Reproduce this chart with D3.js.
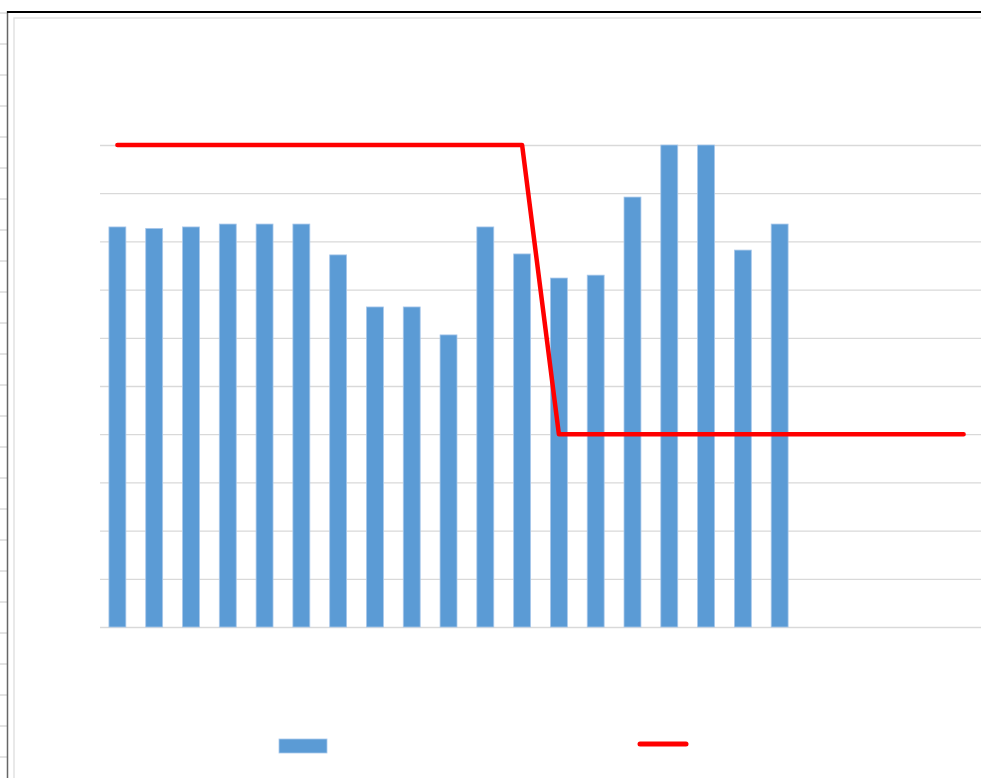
<!DOCTYPE html>
<html>
<head>
<meta charset="utf-8">
<script src="https://cdn.jsdelivr.net/npm/d3@7"></script>
<style>
  html, body { margin: 0; padding: 0; background: #fff; overflow: hidden; }
  svg { display: block; }
</style>
</head>
<body>
<svg id="chart" width="981" height="778"></svg>
<script>
// ---- data ----
const categories = ["1","2","3","4","5","6","7","8","9","10","11","12","13","14","15","16","17","18","19","20","21","22","23","24"];
const barValues = [83.0, 82.7, 83.0, 83.6, 83.6, 83.6, 77.2, 66.4, 66.4, 60.6, 83.0, 77.4, 72.4, 73.0, 89.2, 100, 100, 78.2, 83.6];
const lineValues = [100,100,100,100,100,100,100,100,100,100,100,100,40,40,40,40,40,40,40,40,40,40,40,40];
const yTicks = [0,10,20,30,40,50,60,70,80,90,100];

const svg = d3.select("#chart");
const W = 981, H = 778;

// ---- sheet-like frame ----
const rowLines = d3.range(13, H, 31);
svg.append("g").selectAll("line").data(rowLines).join("line")
  .attr("x1", 0).attr("x2", 7).attr("y1", d => d).attr("y2", d => d)
  .attr("stroke", "#c8c8c8").attr("stroke-width", 1);
svg.append("line").attr("x1", 7.5).attr("x2", 7.5).attr("y1", 11).attr("y2", H)
  .attr("stroke", "#666").attr("stroke-width", 1.5);
svg.append("line").attr("x1", 7).attr("x2", W).attr("y1", 12).attr("y2", 12)
  .attr("stroke", "#000").attr("stroke-width", 2.2);
svg.append("rect").attr("x", 14).attr("y", 18).attr("width", W).attr("height", H)
  .attr("fill", "#fff").attr("stroke", "#e2e2e2").attr("stroke-width", 1.5);

// ---- scales ----
const x = d3.scaleBand().domain(categories).range([99, 982]).paddingInner(0.54).paddingOuter(0.27);
const y = d3.scaleLinear().domain([0, 100]).range([627, 145]);

// gridlines
const grid = d3.axisLeft(y).tickValues(yTicks).tickSize(-(W + 20 - 100)).tickFormat("");
const gg = svg.append("g").attr("transform", "translate(100,0)").call(grid);
gg.select(".domain").remove();
gg.selectAll(".tick line").attr("stroke", "#d9d9d9").attr("stroke-width", 1.3);

// bars
svg.append("g").selectAll("rect").data(barValues).join("rect")
  .attr("x", (d, i) => x(categories[i]))
  .attr("width", x.bandwidth())
  .attr("y", d => y(d))
  .attr("height", d => y(0) - y(d))
  .attr("fill", "#5b9bd5")
  .attr("stroke", "#a9c8ea").attr("stroke-width", 0.8);

// line
const line = d3.line()
  .x((d, i) => x(categories[i]) + x.bandwidth() / 2)
  .y(d => y(d));
svg.append("path").datum(lineValues)
  .attr("d", line)
  .attr("fill", "none")
  .attr("stroke", "#ff0000")
  .attr("stroke-width", 4.5)
  .attr("stroke-linejoin", "round")
  .attr("stroke-linecap", "round");

// ---- legend (no text, as in reference) ----
svg.append("rect").attr("x", 279).attr("y", 739).attr("width", 48).attr("height", 14)
  .attr("fill", "#5b9bd5").attr("stroke", "#a9c8ea").attr("stroke-width", 0.8);
svg.append("line").attr("x1", 640).attr("x2", 686).attr("y1", 744).attr("y2", 744)
  .attr("stroke", "#ff0000").attr("stroke-width", 5).attr("stroke-linecap", "round");
</script>
</body>
</html>
